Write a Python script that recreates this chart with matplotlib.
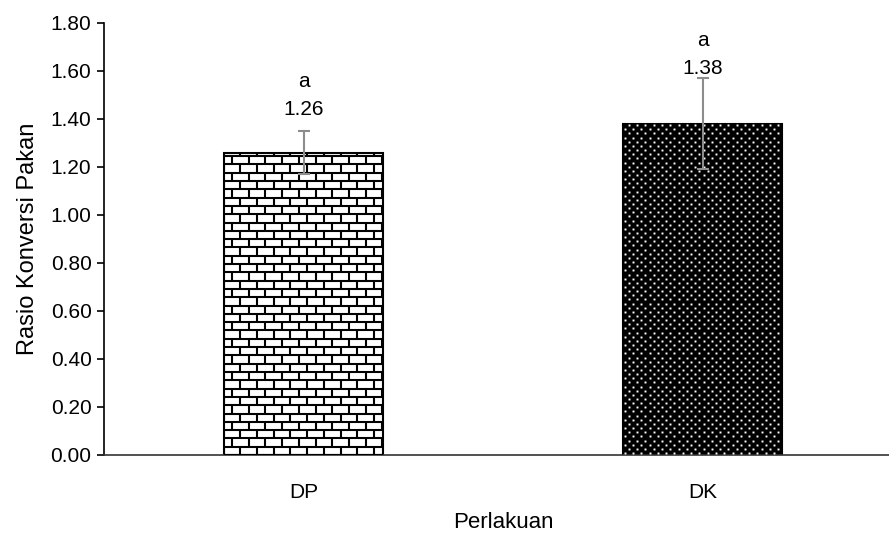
import numpy as np
import matplotlib
matplotlib.use('Agg')
import matplotlib.pyplot as plt
from matplotlib.collections import LineCollection
from matplotlib.transforms import IdentityTransform

treatments = ['DP', 'DK']
fcr_mean = [1.26, 1.38]
fcr_sd = [0.09, 0.19]
letters = ['a', 'a']
yticks = np.arange(0, 1.81, 0.2)

plt.rcParams['font.family'] = ['Liberation Sans', 'DejaVu Sans']

fig = plt.figure(figsize=(8.89, 5.34), dpi=100)
ax = fig.add_axes([104/889, 1-455/534, 798/889, 432/534])
ax.set_xlim(-0.5, 1.5)
ax.set_ylim(0, 1.8)

x = np.arange(len(treatments))
bars = ax.bar(x, fcr_mean, width=0.4, color=['white', 'black'],
              edgecolor='black', linewidth=1.5, zorder=2)

# brick pattern on first bar (pixel units)
bb = bars[0].get_window_extent()
row_h, brick_w = 8.3, 16.7
segs = []
k = 0
yy = bb.y0
while yy < bb.y1:
    top = min(yy + row_h, bb.y1)
    segs.append([(bb.x0, yy), (bb.x1, yy)])
    xx = bb.x0 + (k % 2) * brick_w / 2
    while xx < bb.x1:
        segs.append([(xx, yy), (xx, top)])
        xx += brick_w
    yy += row_h
    k += 1
lc = LineCollection(segs, colors='black', linewidths=1.5,
                    transform=IdentityTransform(), zorder=3)
ax.add_collection(lc)
lc.set_clip_path(bars[0])

# dot pattern on second bar
bb = bars[1].get_window_extent()
dx, dy = 8.3, 4.15
px, py = [], []
k = 0
yy = bb.y0 + 2
while yy < bb.y1:
    xx = bb.x0 + 2 + (k % 2) * dx / 2
    while xx < bb.x1:
        px.append(xx)
        py.append(yy)
        xx += dx
    yy += dy
    k += 1
dots, = ax.plot(px, py, 's', ms=1.4, mew=0, color='white',
                transform=IdentityTransform(), zorder=3)
dots.set_clip_path(bars[1])

ax.errorbar(x, fcr_mean, yerr=fcr_sd, fmt='none', ecolor='#8c8c8c',
            elinewidth=1.5, capsize=4.3, capthick=1.5, zorder=4)

label_pad = [8.5, 0.5]
for xi, m, s, lt, p in zip(x, fcr_mean, fcr_sd, letters, label_pad):
    ax.annotate(f'{m:.2f}', xy=(xi, m + s), xytext=(0, p), textcoords='offset points',
                ha='center', va='bottom', fontsize=15)
    ax.annotate(lt, xy=(xi, m + s), xytext=(0, p + 20), textcoords='offset points',
                ha='center', va='bottom', fontsize=15)

ax.set_xticks(x)
ax.set_xticklabels(treatments, fontsize=15)
ax.set_yticks(yticks)
ax.set_yticklabels([f'{v:.2f}' for v in yticks], fontsize=15)
ax.tick_params(axis='x', length=0, pad=20)
ax.tick_params(axis='y', length=5, width=1.2, pad=4)
for side in ['top', 'right']:
    ax.spines[side].set_visible(False)
ax.spines['left'].set_linewidth(1.2)
ax.spines['bottom'].set_linewidth(1.2)
ax.spines['bottom'].set_color('#333333')
ax.set_xlabel('Perlakuan', fontsize=16, labelpad=7)
ax.set_ylabel('Rasio Konversi Pakan', fontsize=17, labelpad=8)

fig.savefig('out.png', dpi=100)
